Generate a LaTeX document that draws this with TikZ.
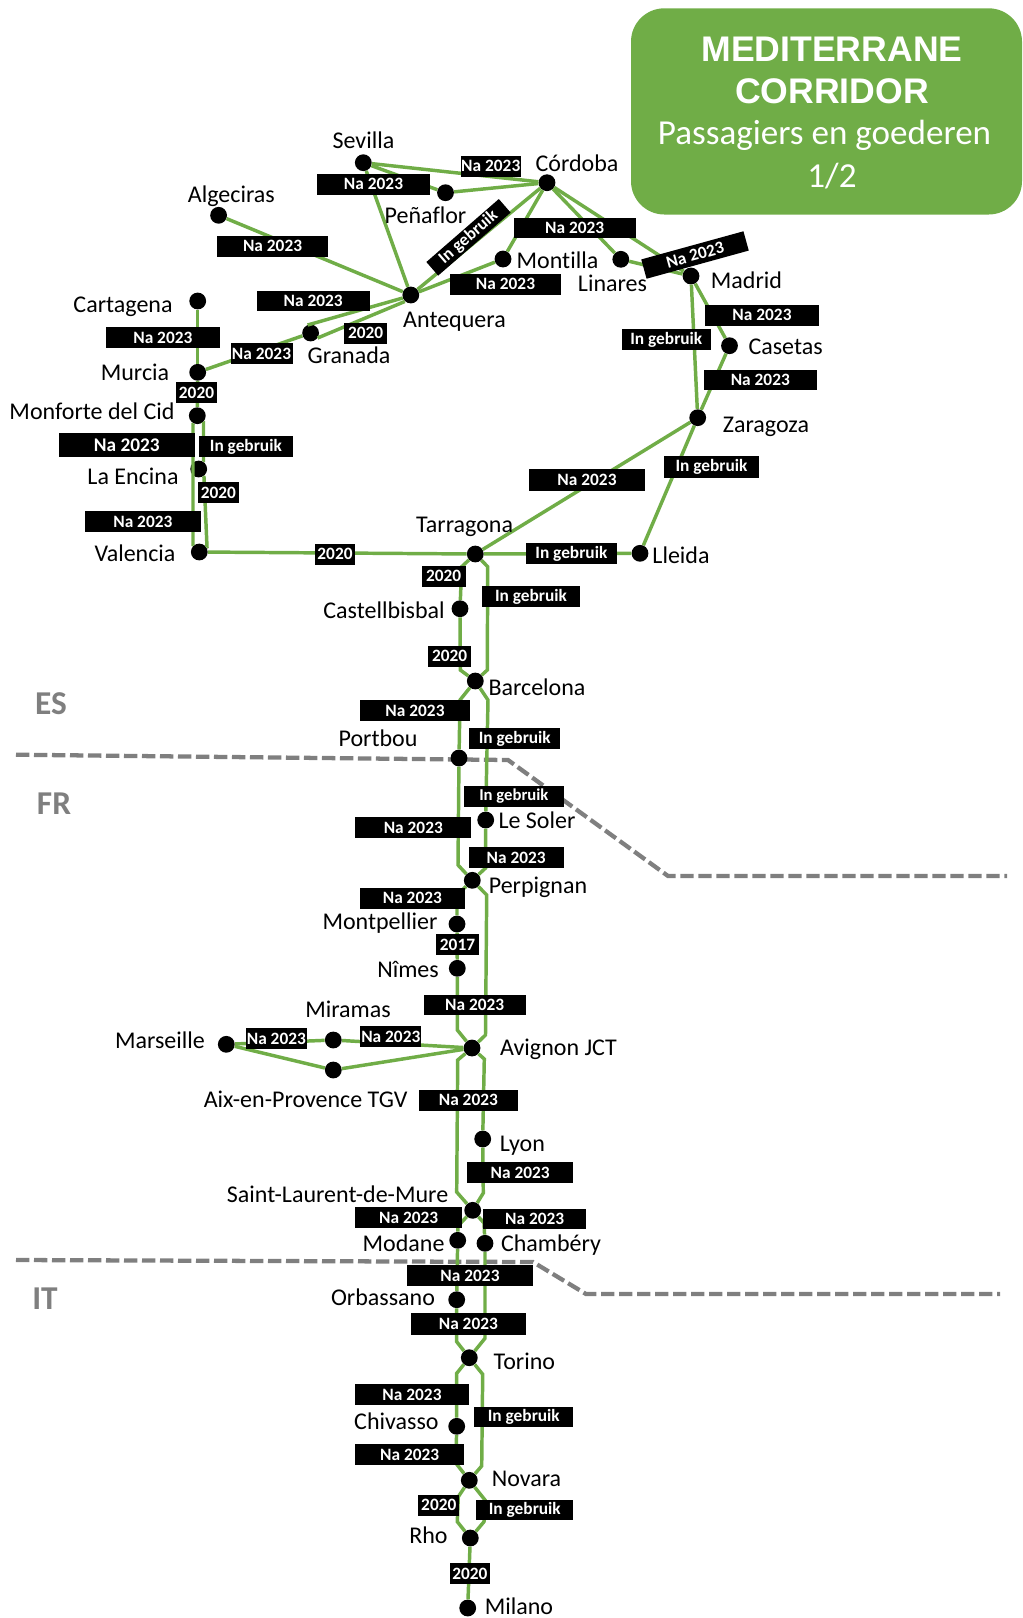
\documentclass[tikz,border=0pt]{standalone}
\usepackage{fontspec}
\setmainfont[Ligatures={NoCommon}]{Carlito}
\newfontfamily\titlefont{Liberation Sans}
\definecolor{railgreen}{HTML}{70AD47}
\definecolor{bordergray}{HTML}{7F7F7F}
\tikzset{
  rail/.style={draw=railgreen,line width=2.6pt,line join=miter},
  frontier/.style={draw=bordergray,line width=3.2pt,dash pattern=on 10pt off 3.5pt},
  stop/.style={circle,fill=black,inner sep=0pt,minimum size=12.6pt},
  city/.style={font=\fontsize{18pt}{19pt}\selectfont,text=black,inner sep=0pt,text height=.7em,text depth=.2em,yshift=-2.6pt},
  tagbox/.style={fill=black,text=white,font=\fontsize{13pt}{14pt}\selectfont\bfseries,inner sep=0pt,align=center},
  land/.style={font=\fontsize{25pt}{26pt}\selectfont\bfseries,text=bordergray,inner sep=0pt},
  bigtitle/.style={inner sep=0pt,text=white,font=\fontsize{26.7pt}{28pt}\selectfont\titlefont\bfseries},
  subtitle/.style={inner sep=0pt,text=white,font=\fontsize{26.3pt}{27pt}\selectfont},
}
% \lbl[font size]{name}{x1}{x2}{y1}{y2}{text}
\newcommand{\lbl}[7][13]{%
  \pgfmathsetmacro{\lblcx}{(#3+#4)/2}%
  \pgfmathsetmacro{\lblcy}{(#5+#6)/2}%
  \pgfmathsetmacro{\lblw}{(#4-#3)*0.75}%
  \pgfmathsetmacro{\lblh}{(#6-#5)*0.75}%
  \node[tagbox,minimum width=\lblw pt,minimum height=\lblh pt,font=\fontsize{#1pt}{14pt}\selectfont\bfseries] (#2) at (\lblcx,\lblcy) {#7};%
}
\begin{document}
\begin{tikzpicture}[x=0.75pt,y=-0.75pt]
\useasboundingbox (0,0) rectangle (1022,1618);
% title
\fill[railgreen,rounded corners=25pt] (631,8.3) rectangle (1022,214.5);
\node[bigtitle] (t1) at (832,49) {MEDITERRANE};
\node[bigtitle] (t2) at (832,91.5) {CORRIDOR};
\node[subtitle] (t3) at (824.5,135) {Passagiers en goederen};
\node[subtitle] (t4) at (832,176) {1/2};
% frontiers
\draw[frontier] (16,754.7) -- (508,760) -- (668,876) -- (1007,876);
\draw[frontier] (16,1260) -- (533,1262) -- (586,1294) -- (1000,1294);
\node[land] (es) at (51,704) {ES};
\node[land] (fr) at (54,804) {FR};
\node[land] (it) at (45,1299) {IT};
% stops
\node[stop] (sevilla) at (363.3,162.7) {};
\node[stop] (cordoba) at (547,182.7) {};
\node[stop] (penaflor) at (445.5,192.7) {};
\node[stop] (algeciras) at (218.6,215.3) {};
\node[stop] (antequera) at (410.8,295) {};
\node[stop] (montilla) at (503,259) {};
\node[stop] (linares) at (620.8,259.3) {};
\node[stop] (madrid) at (691,276) {};
\node[stop] (granada) at (310.6,333) {};
\node[stop] (casetas) at (729.5,345.7) {};
\node[stop] (cartagena) at (197.7,301) {};
\node[stop] (murcia) at (197.7,372.3) {};
\node[stop] (monforte) at (197.3,415.7) {};
\node[stop] (encina) at (198.7,469) {};
\node[stop] (valencia) at (199.3,552) {};
\node[stop] (zaragoza) at (697.7,417.7) {};
\node[stop] (tarragona) at (475.3,554) {};
\node[stop] (lleida) at (640,553.3) {};
\node[stop] (castell) at (460,608.7) {};
\node[stop] (barcelona) at (475.3,681) {};
\node[stop] (portbou) at (459,758) {};
\node[stop] (soler) at (485.7,820) {};
\node[stop] (perpignan) at (472.3,880.3) {};
\node[stop] (montpellier) at (457,924) {};
\node[stop] (nimes) at (457.3,968.3) {};
\node[stop] (marseille) at (226.3,1044.3) {};
\node[stop] (miramas) at (333.3,1040) {};
\node[stop] (aix) at (333.3,1070) {};
\node[stop] (avignon) at (472,1048) {};
\node[stop] (lyon) at (482.7,1139) {};
\node[stop] (laurent) at (472.7,1210.3) {};
\node[stop] (modane) at (457.7,1240.3) {};
\node[stop] (chambery) at (485,1243.3) {};
\node[stop] (orbassano) at (456.7,1299.7) {};
\node[stop] (torino) at (469.3,1357.7) {};
\node[stop] (chivasso) at (456.7,1426.3) {};
\node[stop] (novara) at (469.3,1480.3) {};
\node[stop] (rho) at (470.3,1538) {};
\node[stop] (milano) at (467.7,1608) {};
% rails
\draw[rail] (sevilla) -- (cordoba);
\draw[rail] (sevilla) -- (penaflor);
\draw[rail] (penaflor) -- (cordoba);
\draw[rail] (sevilla) -- (antequera);
\draw[rail] (cordoba) -- (antequera);
\draw[rail] (cordoba) -- (montilla);
\draw[rail] (montilla) -- (antequera);
\draw[rail] (cordoba) -- (linares);
\draw[rail] (linares) -- (madrid);
\draw[rail] (cordoba) -- (madrid);
\draw[rail] (algeciras) -- (antequera);
\draw[rail] ([shift={(-8,3)}]antequera.center) -- ([shift={(-3,-8)}]granada.center);
\draw[rail] ([shift={(-6,6.5)}]antequera.center) -- ([shift={(7,5)}]granada.center);
\draw[rail] (granada) -- (murcia);
\draw[rail] (madrid) -- (zaragoza);
\draw[rail] (madrid) -- (casetas);
\draw[rail] (casetas) -- (zaragoza);
\draw[rail] (zaragoza) -- (tarragona);
\draw[rail] (zaragoza) -- (lleida);
\draw[rail] (lleida) -- (tarragona);
\draw[rail] (tarragona) -- (valencia);
\draw[rail] (cartagena) -- (murcia);
\draw[rail] (murcia) -- (monforte);
\draw[rail] (monforte) -- (193,424) -- (193,545) -- (valencia);
\draw[rail] (monforte) -- (203.5,422) -- (203.5,461) -- (encina);
\draw[rail] (encina) -- (204,477) -- (207,547) -- (valencia);
\draw[rail] (tarragona) -- (461.7,566.7) -- (castell);
\draw[rail] (castell) -- (460.3,670) -- (barcelona);
\draw[rail] (tarragona) -- (487.7,566.7) -- (487.3,670) -- (barcelona);
\draw[rail] (barcelona) -- (460,700) -- (portbou);
\draw[rail] (barcelona) -- (488,700) -- (486,800) -- (soler);
\draw[rail] (portbou) -- (458,865) -- (perpignan);
\draw[rail] (soler) -- (485.6,868) -- (perpignan);
\draw[rail] (perpignan) -- (457,895) -- (montpellier);
\draw[rail] (montpellier) -- (nimes);
\draw[rail] (nimes) -- (457.3,1030) -- (avignon);
\draw[rail] (perpignan) -- (486.7,895) -- (485.5,1035) -- (avignon);
\draw[rail] (avignon) -- (484.3,1059) -- (lyon);
\draw[rail] (avignon) -- (457.7,1060) -- (456.7,1192) -- (laurent);
\draw[rail] (lyon) -- (483.3,1193) -- (laurent);
\draw[rail] (laurent) -- (458,1226) -- (modane);
\draw[rail] (laurent) -- (484,1223) -- (chambery);
\draw[rail] (modane) -- (orbassano);
\draw[rail] (orbassano) -- (456.7,1341.7) -- (torino);
\draw[rail] (chambery) -- (485,1338.3) -- (torino);
\draw[rail] (torino) -- (456.7,1373.3) -- (chivasso);
\draw[rail] (torino) -- (482.7,1374.3) -- (481.7,1466) -- (novara);
\draw[rail] (chivasso) -- (456,1463.3) -- (novara);
\draw[rail] (novara) -- (458.3,1496.7) -- (457.3,1521.7) -- (rho);
\draw[rail] (novara) -- (485,1500) -- (484,1521.7) -- (rho);
\draw[rail] (rho) -- (milano);
\draw[rail] (marseille) -- (miramas);
\draw[rail] (miramas) -- (avignon);
\draw[rail] (marseille) -- (aix);
\draw[rail] (aix) -- (avignon);
% tags
\lbl{g1}{460.9}{520.6}{156}{176.7}{Na 2023}
\lbl{g2}{317}{430}{174}{194.7}{Na 2023}
\lbl{g3}{216.7}{328.4}{235.7}{256.7}{Na 2023}
\node[tagbox,rotate=41,minimum width=72pt,minimum height=13.5pt] (g4) at (468.5,237.3) {In gebruik};
\lbl{g5}{513.7}{635.7}{217.7}{238}{Na 2023}
\lbl{g6}{450}{561}{274}{294.7}{Na 2023}
\node[tagbox,rotate=15.4,minimum width=79.5pt,minimum height=15pt] (g7) at (695,255) {Na 2023};
\lbl{g8}{256.5}{369.8}{290.7}{311.3}{Na 2023}
\lbl{g9}{344}{387.4}{322.7}{343.7}{2020}
\lbl{g10}{230.5}{292.5}{343.3}{363.7}{Na 2023}
\lbl{g11}{705}{819}{305}{325.7}{Na 2023}
\lbl{g12}{621.6}{711}{329.3}{350.3}{In gebruik}
\lbl{g13}{704}{816.6}{369.6}{390}{Na 2023}
\lbl{g14}{105.7}{220}{327}{348.3}{Na 2023}
\lbl{g15}{176}{217}{382}{403}{2020}
\lbl[14.5]{g16}{58.7}{195}{433}{457}{Na 2023}
\lbl{g17}{199}{292.7}{436}{457}{In gebruik}
\lbl{g18}{198}{238.7}{482.3}{503.3}{2020}
\lbl{g19}{85}{200.7}{511.3}{532.3}{Na 2023}
\lbl{g20}{314.7}{355.3}{543.7}{564.7}{2020}
\lbl{g21}{528.7}{645.3}{469.3}{490.7}{Na 2023}
\lbl{g22}{663.7}{759.3}{456.3}{477.7}{In gebruik}
\lbl{g23}{526}{616.7}{543.3}{564}{In gebruik}
\lbl{g24}{421.7}{465.7}{565.7}{586.7}{2020}
\lbl{g25}{482.3}{579.7}{586}{607.3}{In gebruik}
\lbl{g26}{428}{471.3}{646}{666.7}{2020}
\lbl{g27}{360}{470}{700}{721.3}{Na 2023}
\lbl{g28}{469.3}{560.3}{728.3}{749}{In gebruik}
\lbl[12.5]{g29}{464}{563.7}{786}{807}{In gebruik}
\lbl{g30}{355.3}{471.3}{817.3}{838}{Na 2023}
\lbl{g31}{468.7}{563.7}{847}{868.3}{Na 2023}
\lbl{g32}{360}{464.7}{887.7}{908.7}{Na 2023}
\lbl{g33}{436}{479}{934}{955.3}{2017}
\lbl{g34}{423.7}{525.7}{994.7}{1015.3}{Na 2023}
\lbl{g35}{246}{306.7}{1028}{1049.3}{Na 2023}
\lbl{g36}{360.3}{421.3}{1026.3}{1047}{Na 2023}
\lbl{g37}{419}{517.7}{1090}{1110.7}{Na 2023}
\lbl{g38}{467}{573.3}{1162.3}{1183.3}{Na 2023}
\lbl{g39}{355.3}{462}{1207}{1228.3}{Na 2023}
\lbl{g40}{483}{586.3}{1208.7}{1229.3}{Na 2023}
\lbl{g41}{407.3}{532.7}{1265.3}{1286}{Na 2023}
\lbl{g42}{411}{525.7}{1313.3}{1334.7}{Na 2023}
\lbl{g43}{355.3}{468.7}{1384.3}{1405.3}{Na 2023}
\lbl{g44}{474.3}{573.3}{1406.7}{1427.3}{In gebruik}
\lbl{g45}{355.3}{464}{1444}{1465}{Na 2023}
\lbl{g46}{418.3}{459.3}{1494.7}{1516}{2020}
\lbl{g47}{476.3}{573.3}{1499.7}{1520.3}{In gebruik}
\lbl{g48}{449.7}{490}{1563.3}{1584.3}{2020}
% city names
\node[city] (n1) at (363.4,142) {Sevilla};
\node[city] (n2) at (577,165) {Córdoba};
\node[city] (n3) at (231.4,196) {Algeciras};
\node[city] (n4) at (425.5,217) {Peñaflor};
\node[city] (n5) at (557.5,262) {Montilla};
\node[city] (n6) at (612.5,285) {Linares};
\node[city] (n7) at (746.5,282) {Madrid};
\node[city] (n8) at (454.5,321) {Antequera};
\node[city] (n9) at (123,305.5) {Cartagena};
\node[city] (n10) at (349,357) {Granada};
\node[city] (n11) at (785.6,348) {Casetas};
\node[city] (n12) at (135,373.5) {Murcia};
\node[city] (n13) at (92,413) {Monforte del Cid};
\node[city] (n14) at (766,426) {Zaragoza};
\node[city] (n15) at (133,478) {La Encina};
\node[city] (n16) at (464.6,525.5) {Tarragona};
\node[city] (n17) at (681,556.5) {Lleida};
\node[city] (n18) at (135,555) {Valencia};
\node[city] (n19) at (384,612) {Castellbisbal};
\node[city] (n20) at (537,688.5) {Barcelona};
\node[city] (n21) at (378,740) {Portbou};
\node[city] (n22) at (537,821.5) {Le Soler};
\node[city] (n23) at (538,887) {Perpignan};
\node[city] (n24) at (380,923) {Montpellier};
\node[city] (n25) at (408,971) {Nîmes};
\node[city] (n26) at (348,1011) {Miramas};
\node[city] (n27) at (160,1041.5) {Marseille};
\node[city] (n28) at (558.5,1049) {Avignon JCT};
\node[city] (n29) at (305.6,1101) {Aix-en-Provence TGV};
\node[city] (n30) at (522.4,1144.5) {Lyon};
\node[city] (n31) at (337.6,1195.5) {Saint-Laurent-de-Mure};
\node[city] (n32) at (403.6,1245) {Modane};
\node[city] (n33) at (551,1245) {Chambéry};
\node[city] (n34) at (383,1298.6) {Orbassano};
\node[city] (n35) at (524.4,1362.7) {Torino};
\node[city] (n36) at (396.4,1422.5) {Chivasso};
\node[city] (n37) at (526.5,1480) {Novara};
\node[city] (n38) at (428.4,1537) {Rho};
\node[city] (n39) at (519,1607.5) {Milano};
\end{tikzpicture}
\end{document}
